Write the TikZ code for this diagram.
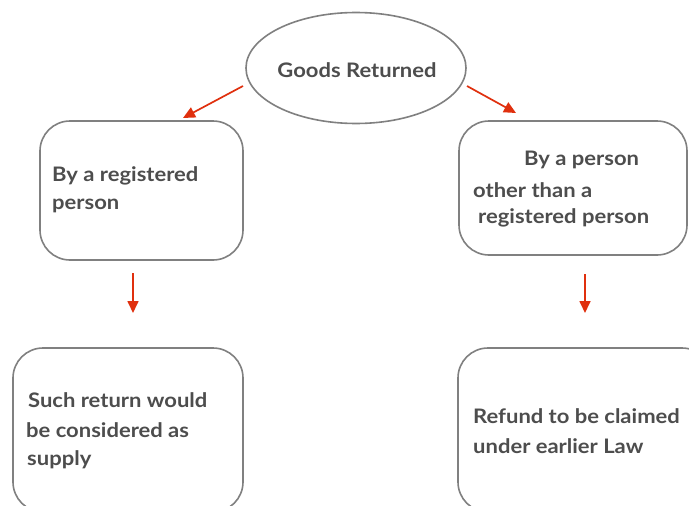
\documentclass[tikz,border=0pt]{standalone}
\usepackage{fontspec}
\setmainfont{Lato}[UprightFont=* Bold,FakeStretch=1.1]
\usetikzlibrary{arrows.meta,shapes.geometric}
\definecolor{boxgray}{HTML}{808080}
\definecolor{txtgray}{HTML}{4D4D4D}
\definecolor{arrred}{HTML}{E0300E}
\tikzset{
  x=1pt,y=-1pt,
  box/.style={draw=boxgray,line width=1.6pt,rounded corners=30pt,fill=white},
  lbl/.style={anchor=west,inner sep=0pt,text=txtgray,font=\fontsize{20}{24}\selectfont},
  conn/.style={draw=arrred,line width=1.7pt,-{Triangle[length=12pt,width=11pt]}},
}
\begin{document}
\begin{tikzpicture}
\useasboundingbox[fill=white] (0,0) rectangle (689,506);
% ellipse
\node[ellipse,draw=boxgray,line width=1.6pt,minimum width=220pt,minimum height=111pt,inner sep=0pt] (root) at (356,68) {};
\node[anchor=center,inner sep=0pt,text=txtgray,font=\fontsize{20}{24}\selectfont] (roottxt) at (357,70) {Goods Returned};
% boxes
\draw[box] (40,121) rectangle (243,260);
\node[inner sep=0pt,minimum width=203pt,minimum height=139pt] (b1) at (141.5,190.5) {};
\draw[box] (459,121) rectangle (687,255);
\node[inner sep=0pt,minimum width=228pt,minimum height=134pt] (b2) at (573,188) {};
\draw[box] (13,348) rectangle (243,512);
\node[inner sep=0pt,minimum width=230pt,minimum height=164pt] (b3) at (128,430) {};
\draw[box] (458,348) rectangle (712,512);
\node[inner sep=0pt,minimum width=254pt,minimum height=164pt] (b4) at (585,430) {};
% texts
\node[lbl] (t1a) at (52,176) {By a registered};
\node[lbl] (t1b) at (52,206) {person};
\node[lbl] (t2a) at (524,160) {By a person};
\node[lbl] (t2b) at (473,190) {other than a};
\node[lbl] (t2c) at (478,218) {registered person};
\node[lbl] (t3a) at (28,400) {Such return would};
\node[lbl] (t3b) at (26,430) {be considered as};
\node[lbl] (t3c) at (27,460) {supply};
\node[lbl] (t4a) at (473,416) {Refund to be claimed};
\node[lbl] (t4b) at (473,446) {under earlier Law};
% arrow coordinates
\coordinate (a1s) at (243,86);
\coordinate (a1e) at (183,118);
\coordinate (a2s) at (467,86);
\coordinate (a2e) at (516,113);
\coordinate (a3s) at (133,273);
\coordinate (a3e) at (133,313);
\coordinate (a4s) at (585,274);
\coordinate (a4e) at (585,313);
\draw[conn] (a1s) -- (a1e);
\draw[conn] (a2s) -- (a2e);
\draw[conn] (a3s) -- (a3e);
\draw[conn] (a4s) -- (a4e);
\end{tikzpicture}
\end{document}
